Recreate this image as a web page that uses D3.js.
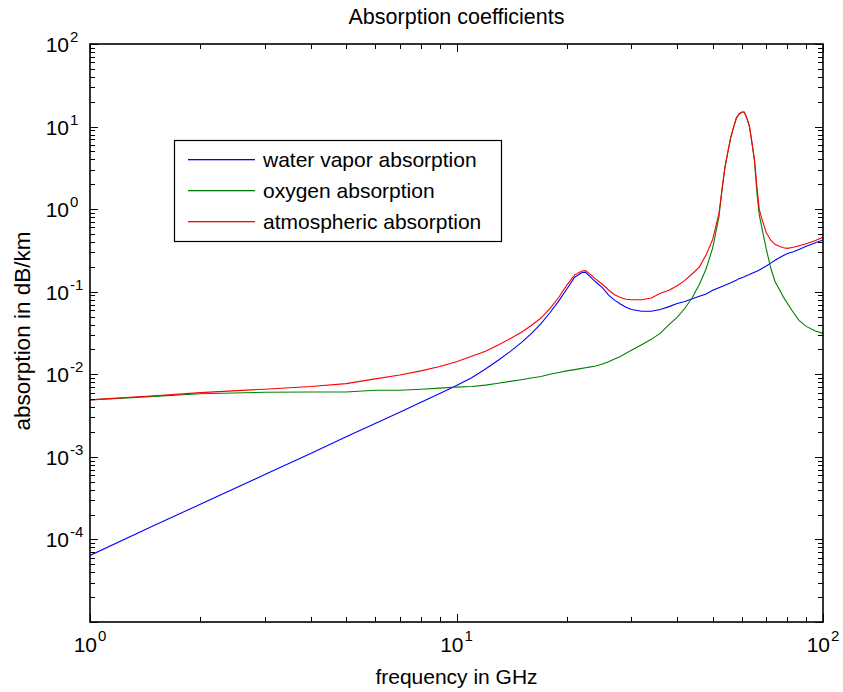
<!DOCTYPE html>
<html>
<head>
<meta charset="utf-8">
<script src="https://cdn.jsdelivr.net/npm/d3@7"></script>
<style>
  body { margin: 0; background: #fff; }
  svg text { font-family: "Liberation Sans", Arial, Helvetica, sans-serif; fill: #000; }
</style>
</head>
<body>
<div id="chart"></div>
<script>
var w = 843;
var h = 692;

// frequency grid (GHz) and absorption values (dB/km)
var freqGHz = [1, 1.5, 2, 3, 4, 5, 6, 7, 8, 9, 10, 11, 12, 13, 14, 15, 16, 17, 18, 19, 20, 21, 22, 22.5, 23, 24, 25, 26, 27, 28, 29, 30, 32, 34, 36, 38, 40, 42, 44, 46, 48, 50, 52, 53, 54, 55, 56, 57, 58, 59, 60, 61, 62, 63, 64, 65, 66, 67, 68, 70, 72, 74, 76, 78, 80, 83, 86, 90, 95, 100];

var waterVapor = [6.4e-5, 1.48e-4, 2.67e-4, 6.1e-4, 1.1e-3, 1.75e-3, 2.54e-3, 3.48e-3, 4.58e-3, 5.85e-3, 7.3e-3, 9.1e-3, 0.0116, 0.0148, 0.0188, 0.024, 0.031, 0.041, 0.056, 0.077, 0.108, 0.15, 0.171, 0.172, 0.157, 0.131, 0.112, 0.091, 0.079, 0.071, 0.065, 0.061, 0.058, 0.058, 0.061, 0.066, 0.072, 0.076, 0.082, 0.088, 0.094, 0.104, 0.112, 0.116, 0.12, 0.124, 0.128, 0.133, 0.138, 0.144, 0.148, 0.152, 0.157, 0.162, 0.167, 0.172, 0.177, 0.183, 0.19, 0.205, 0.222, 0.24, 0.258, 0.275, 0.29, 0.305, 0.325, 0.355, 0.39, 0.423];

var oxygen = [0.0049, 0.0054, 0.0058, 0.00605, 0.0061, 0.0061, 0.0064, 0.0064, 0.0066, 0.0068, 0.0070, 0.0071, 0.0074, 0.0078, 0.0082, 0.0086, 0.0090, 0.0094, 0.0100, 0.0105, 0.0110, 0.0114, 0.0118, 0.0120, 0.0122, 0.0126, 0.0133, 0.0142, 0.0153, 0.0164, 0.0180, 0.0195, 0.0228, 0.0265, 0.0315, 0.040, 0.049, 0.063, 0.085, 0.123, 0.19, 0.34, 0.80, 1.7, 3.2, 4.9, 7.3, 9.7, 12.6, 14.1, 14.9, 14.9, 12.5, 10.0, 6.3, 3.9, 1.6, 0.85, 0.62, 0.33, 0.195, 0.132, 0.107, 0.086, 0.072, 0.056, 0.045, 0.038, 0.0336, 0.0313];

var atmospheric = [0.0049, 0.0055, 0.0060, 0.0066, 0.0071, 0.0077, 0.0088, 0.0098, 0.0110, 0.0124, 0.0142, 0.0165, 0.0190, 0.0227, 0.027, 0.032, 0.039, 0.048, 0.063, 0.085, 0.12, 0.16, 0.178, 0.18, 0.167, 0.142, 0.123, 0.105, 0.092, 0.085, 0.081, 0.080, 0.080, 0.084, 0.096, 0.104, 0.118, 0.137, 0.165, 0.20, 0.28, 0.43, 0.88, 1.7, 3.2, 4.9, 7.4, 9.8, 12.7, 14.2, 15.0, 15.0, 12.6, 10.1, 6.4, 4.0, 1.9, 1.0, 0.78, 0.52, 0.42, 0.375, 0.355, 0.34, 0.335, 0.345, 0.36, 0.38, 0.415, 0.456];

var seriesNames = ["water vapor absorption", "oxygen absorption", "atmospheric absorption"];
var seriesColors = ["#0000ff", "#008000", "#ff0000"];

var xTickExp = [0, 1, 2];
var yTickExp = [2, 1, 0, -1, -2, -3, -4];

var margin = {left: 90, right: 20, top: 44, bottom: 70};

var svg = d3.select("#chart")
    .append("svg")
    .attr("width", w)
    .attr("height", h);

var x = d3.scaleLog().domain([1, 100]).range([margin.left, w - margin.right]);
var y = d3.scaleLog().domain([1e-5, 1e2]).range([h - margin.bottom, margin.top]);

var x0 = x.range()[0], x1 = x.range()[1];
var y0 = y.range()[0], y1 = y.range()[1];

svg.append("clipPath").attr("id", "clip")
    .append("rect")
    .attr("x", x0).attr("y", y1)
    .attr("width", x1 - x0).attr("height", y0 - y1);

var series = [waterVapor, oxygen, atmospheric].map(function(vals, i) {
    return {name: seriesNames[i], color: seriesColors[i], values: vals};
});

var line = d3.line()
    .x(function(d, i) { return x(freqGHz[i]); })
    .y(function(d) { return y(d); });

svg.append("g").attr("clip-path", "url(#clip)")
    .selectAll("path")
    .data(series)
    .enter()
    .append("path")
    .attr("d", function(d) { return line(d.values); })
    .attr("fill", "none")
    .attr("stroke", function(d) { return d.color; })
    .attr("stroke-width", 1.1);

// ticks on all four sides, pointing inward
function isMajor(v) {
    var l = Math.log10(v);
    return Math.abs(l - Math.round(l)) < 1e-9;
}
var ticks = svg.append("g").attr("stroke", "#000").attr("stroke-width", 1);

x.ticks().forEach(function(v) {
    var len = isMajor(v) ? 8 : 5;
    var px = Math.round(x(v)) + 0.5;
    ticks.append("line").attr("x1", px).attr("x2", px).attr("y1", y0).attr("y2", y0 - len);
    ticks.append("line").attr("x1", px).attr("x2", px).attr("y1", y1).attr("y2", y1 + len);
});
y.ticks().forEach(function(v) {
    var len = isMajor(v) ? 8 : 5;
    var py = Math.round(y(v)) + 0.5;
    ticks.append("line").attr("x1", x0).attr("x2", x0 + len).attr("y1", py).attr("y2", py);
    ticks.append("line").attr("x1", x1).attr("x2", x1 - len).attr("y1", py).attr("y2", py);
});

// axes box
svg.append("rect")
    .attr("x", x0).attr("y", y1)
    .attr("width", x1 - x0).attr("height", y0 - y1)
    .attr("fill", "none")
    .attr("stroke", "#000")
    .attr("stroke-width", 1.6);

// tick labels: 10 with superscript exponent
var baseSize = 21, supSize = 15;
xTickExp.forEach(function(e) {
    var px = x(Math.pow(10, e));
    svg.append("text")
        .attr("x", px + 7).attr("y", y0 + 30)
        .attr("text-anchor", "end")
        .style("font-size", baseSize + "px")
        .text("10");
    svg.append("text")
        .attr("x", px + 8).attr("y", y0 + 19)
        .attr("text-anchor", "start")
        .style("font-size", supSize + "px")
        .text(e);
});
yTickExp.forEach(function(e) {
    var py = y(Math.pow(10, e));
    svg.append("text")
        .attr("x", x0 - 21).attr("y", py + 8)
        .attr("text-anchor", "end")
        .style("font-size", baseSize + "px")
        .text("10");
    svg.append("text")
        .attr("x", x0 - 20).attr("y", py - 2)
        .attr("text-anchor", "start")
        .style("font-size", supSize + "px")
        .text(e < 0 ? "-" + (-e) : e);
});

// title and axis labels
var cx = (x0 + x1) / 2;
svg.append("text")
    .attr("x", cx).attr("y", 24)
    .attr("text-anchor", "middle")
    .style("font-size", "21.5px")
    .text("Absorption coefficients");

svg.append("text")
    .attr("x", cx).attr("y", 684)
    .attr("text-anchor", "middle")
    .style("font-size", "21px")
    .text("frequency in GHz");

svg.append("text")
    .attr("transform", "translate(30,331) rotate(-90)")
    .attr("text-anchor", "middle")
    .style("font-size", "22.5px")
    .text("absorption in dB/km");

// legend
var lg = svg.append("g").attr("transform", "translate(174,140)");
lg.append("rect")
    .attr("x", 0.5).attr("y", 0.5)
    .attr("width", 327).attr("height", 101)
    .attr("fill", "#fff")
    .attr("stroke", "#000")
    .attr("stroke-width", 1.2);
var rows = lg.selectAll("g.row")
    .data(series)
    .enter()
    .append("g")
    .attr("class", "row")
    .attr("transform", function(d, i) { return "translate(0," + (19 + i * 31) + ")"; });
rows.append("rect")
    .attr("x", 14).attr("y", 0)
    .attr("width", 67).attr("height", 1.3)
    .style("fill", function(d) { return d.color; });
rows.append("text")
    .attr("x", 89).attr("y", 8)
    .style("font-size", "21px")
    .text(function(d) { return d.name; });
</script>
</body>
</html>
